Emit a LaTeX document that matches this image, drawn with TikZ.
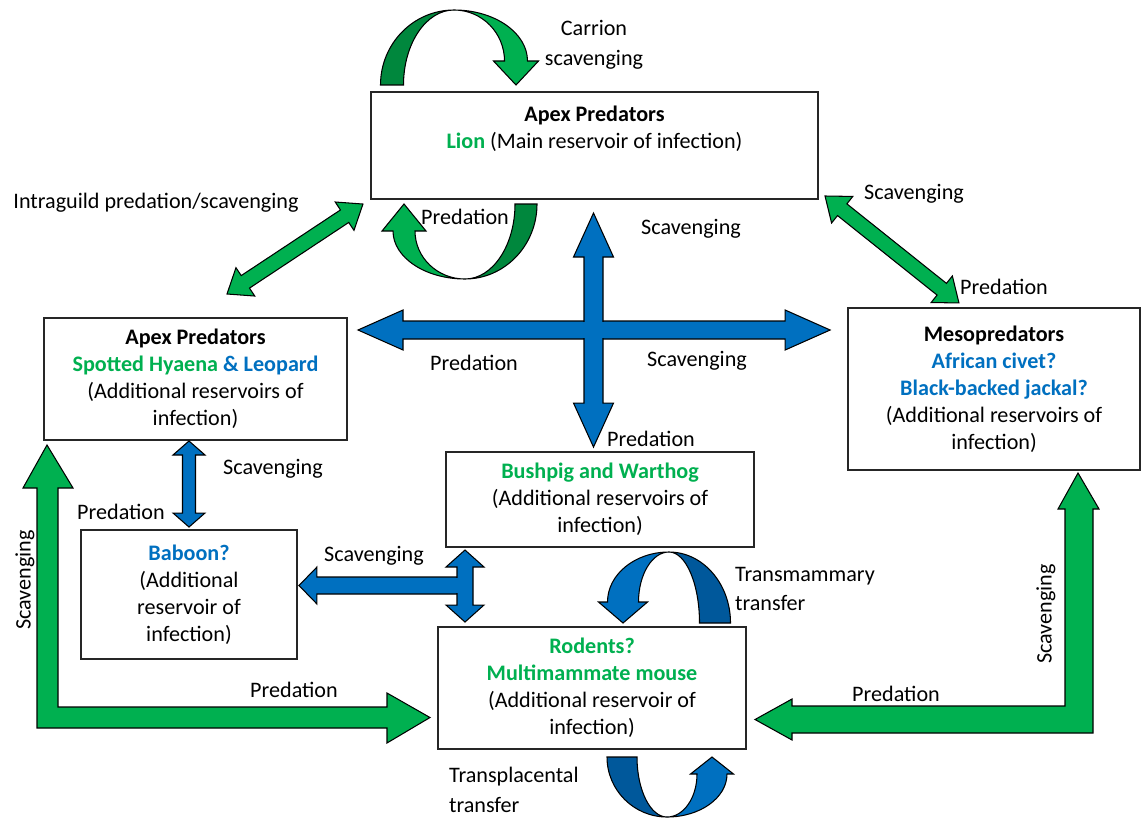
\documentclass[tikz,border=0pt]{standalone}
\usepackage{fontspec}
\setmainfont{Carlito}
\usepackage{xcolor}
\usepackage{tikz}
\usetikzlibrary{calc}

\definecolor{tgreen}{HTML}{00B050}
\definecolor{tblue}{HTML}{0070C0}
\definecolor{dgreen}{HTML}{00873D}
\definecolor{dblue}{HTML}{00589B}

% fat straight arrows between two named points (sizes in px)
\newcommand{\getdir}[2]{%
  \path let \p1=($(#2)-(#1)$) in \pgfextra{%
    \pgfmathsetmacro\tmpa{atan2(\y1,\x1)}%
    \pgfmathsetmacro\tmpb{veclen(\x1,\y1)/0.569055}%
    \xdef\arrang{\tmpa}\xdef\arrlen{\tmpb}};}
\newcommand{\dblarrow}[6]{%
  \getdir{#1}{#2}
  \begin{scope}[shift={(#1)},rotate=\arrang,x=0.02cm,y=0.02cm]
    \filldraw[fill=#3,arrowline] (0,0) -- (#6,#5) -- (#6,#4) -- ({\arrlen-#6},#4) -- ({\arrlen-#6},#5)
      -- (\arrlen,0) -- ({\arrlen-#6},-#5) -- ({\arrlen-#6},-#4) -- (#6,-#4) -- (#6,-#5) -- cycle;
  \end{scope}}
\newcommand{\sglarrow}[6]{%
  \getdir{#1}{#2}
  \begin{scope}[shift={(#1)},rotate=\arrang,x=0.02cm,y=0.02cm]
    \filldraw[fill=#3,arrowline] (0,-#4) -- ({\arrlen-#6},-#4) -- ({\arrlen-#6},-#5) -- (\arrlen,0)
      -- ({\arrlen-#6},#5) -- ({\arrlen-#6},#4) -- (0,#4) -- cycle;
  \end{scope}}
% twisted u-turn arrow: options, light, dark, radius, thickness, height, head length, wing
\newcommand{\twistarrow}[8]{%
  \begin{scope}[#1]
    \filldraw[fill=#3,arrowline] ({-#4-#5/2},#6) .. controls ({-#4-#5/2},{0.448*#6}) and ({-0.552*(#4+#5/2)},0) .. (0,0)
      .. controls ({-0.552*(#4-#5/2)},0) and ({-#4+#5/2},{0.448*#6}) .. ({-#4+#5/2},#6) -- cycle;
    \filldraw[fill=#2,arrowline] (0,0) .. controls ({0.552*(#4+#5/2)},0) and ({#4+#5/2},{0.448*(#6-#7)}) .. ({#4+#5/2},{#6-#7})
      -- ({#4+#5/2+#8},{#6-#7}) -- (#4,#6) -- ({#4-#5/2-#8},{#6-#7}) -- ({#4-#5/2},{#6-#7})
      .. controls ({#4-#5/2},{0.448*(#6-#7)}) and ({0.552*(#4-#5/2)},0) .. (0,0) -- cycle;
  \end{scope}}

\begin{document}
\begin{tikzpicture}[
    x=0.02cm, y=-0.02cm,
    box/.style={rectangle,draw=black!85,line width=0.8pt,fill=white,align=center,font=\fontsize{12.6}{15.4}\selectfont},
    lbl/.style={font=\fontsize{12.6}{17}\selectfont,inner sep=1pt,align=center},
    arrowline/.style={draw=black,line width=0.6pt,line join=miter}
]
\useasboundingbox (0,0) rectangle (1141,821);

% boxes
\node[box,minimum width=8.94cm,minimum height=2.14cm] (lion) at (594.5,145.5) {};
\node[lbl,font=\fontsize{12.6}{15.4}\selectfont] (liontext) at (594.5,129) {\textbf{Apex Predators}\\\textbf{\color{tgreen}Lion} (Main reservoir of infection)};
\node[box,minimum width=6.06cm,minimum height=2.44cm] (hyaena) at (195.5,379) {\textbf{Apex Predators}\\\textbf{\color{tgreen}Spotted Hyaena {\color{tblue}\& Leopard}}\\(Additional reservoirs of\\infection)};
\node[box,minimum width=5.84cm,minimum height=3.24cm] (meso) at (994,389) {\textbf{Mesopredators}\\\textbf{\color{tblue}African civet?}\\\textbf{\color{tblue}Black-backed jackal?}\\(Additional reservoirs of\\infection)};
\node[box,minimum width=6.16cm,minimum height=1.9cm] (pigs) at (600,499.5) {\textbf{\color{tgreen}Bushpig and Warthog}\\(Additional reservoirs of\\infection)};
\node[box,minimum width=4.32cm,minimum height=2.58cm] (baboon) at (189,594.5) {\textbf{\color{tblue}Baboon?}\\(Additional\\reservoir of\\infection)};
\node[box,minimum width=6.16cm,minimum height=2.44cm] (rodents) at (592,688) {\textbf{\color{tgreen}Rodents?}\\\textbf{\color{tgreen}Multimammate mouse}\\(Additional reservoir of\\infection)};

% arrow ends
\coordinate (diagA) at (363,204);
\coordinate (diagB) at (227,294);
\coordinate (diagC) at (825,196);
\coordinate (diagD) at (959,303);
\coordinate (crossL) at (358,330);
\coordinate (crossR) at (830,330);
\coordinate (crossT) at (593.5,213);
\coordinate (crossB) at (593.5,447);
\coordinate (hyTip) at (189,441);
\coordinate (babTip) at (189,527);
\coordinate (pigTip) at (465,550);
\coordinate (rodTip) at (465,622);
\coordinate (junct) at (465,585.5);
\coordinate (babSide) at (299,585.5);
\coordinate (leftTip) at (47,445);
\coordinate (mesoTip) at (1078,473);

% straight arrows
\dblarrow{diagB}{diagA}{tgreen}{7.5}{17}{22}
\dblarrow{diagC}{diagD}{tgreen}{7.5}{17}{22}
\dblarrow{crossL}{crossR}{tblue}{9}{20}{45}
\dblarrow{crossT}{crossB}{tblue}{9.5}{20}{44}
\fill[tblue] (582.5,321.6) rectangle (604.5,338.4);
\dblarrow{hyTip}{babTip}{tblue}{6.5}{16}{14}
\sglarrow{junct}{babSide}{tblue}{8.5}{18.5}{18}
\dblarrow{pigTip}{rodTip}{tblue}{8}{19}{17}
\fill[tblue] (455.5,577.8) rectangle (459,593.2);

% bent arrows
\filldraw[fill=tgreen,arrowline] (leftTip) -- ++(26,43) -- ++(-15,0) -- ++(0,219) -- ++(329,0) -- ++(0,-14)
  -- ++(43,24.5) -- ++(-43,25.5) -- ++(0,-15) -- ++(-350,0) -- ++(0,-240) -- ++(-14,0) -- cycle;
\filldraw[fill=tgreen,arrowline] (mesoTip) -- ++(21,36) -- ++(-6,0) -- ++(0,224) -- ++(-301,0) -- ++(0,7)
  -- ++(-37,-20.5) -- ++(37,-20.5) -- ++(0,7) -- ++(273,0) -- ++(0,-197) -- ++(-7,0) -- cycle;

% u-turn arrows
\twistarrow{shift={(454,10)}}{tgreen}{dgreen}{62}{23}{75}{24}{11}
\twistarrow{shift={(465,279)},rotate=180}{tgreen}{dgreen}{61}{22}{75}{27}{11}
\twistarrow{shift={(669,552)},xscale=-1}{tblue}{dblue}{46}{31}{71}{21}{9}
\twistarrow{shift={(667,817)},yscale=-1}{tblue}{dblue}{45}{30}{60}{17}{6.5}

% labels
\node[lbl] (carrion) at (594,45) {Carrion\\scavenging};
\node[lbl] (intraguild) at (156,203) {Intraguild predation/scavenging};
\node[lbl] (lionpred) at (465,217) {Predation};
\node[lbl] (scavup) at (691,229) {Scavenging};
\node[lbl] (scavmeso) at (914,194) {Scavenging};
\node[lbl] (predmeso) at (1004,287) {Predation};
\node[lbl] (predleft) at (474,363) {Predation};
\node[lbl] (scavright) at (697,361) {Scavenging};
\node[lbl] (preddown) at (651,439) {Predation};
\node[lbl] (scavbab) at (273,469) {Scavenging};
\node[lbl] (predbab) at (121,512) {Predation};
\node[lbl] (scavmid) at (374,556) {Scavenging};
\node[lbl,align=left,anchor=west] (transmam) at (733,589) {Transmammary\\transfer};
\node[lbl,rotate=90] (scavlL) at (25,580) {Scavenging};
\node[lbl,rotate=90] (scavlR) at (1046,614) {Scavenging};
\node[lbl] (predlL) at (294,690) {Predation};
\node[lbl] (predlR) at (896,694) {Predation};
\node[lbl,align=left,anchor=west] (transplac) at (447,789.5) {Transplacental\\transfer};
\end{tikzpicture}
\end{document}
